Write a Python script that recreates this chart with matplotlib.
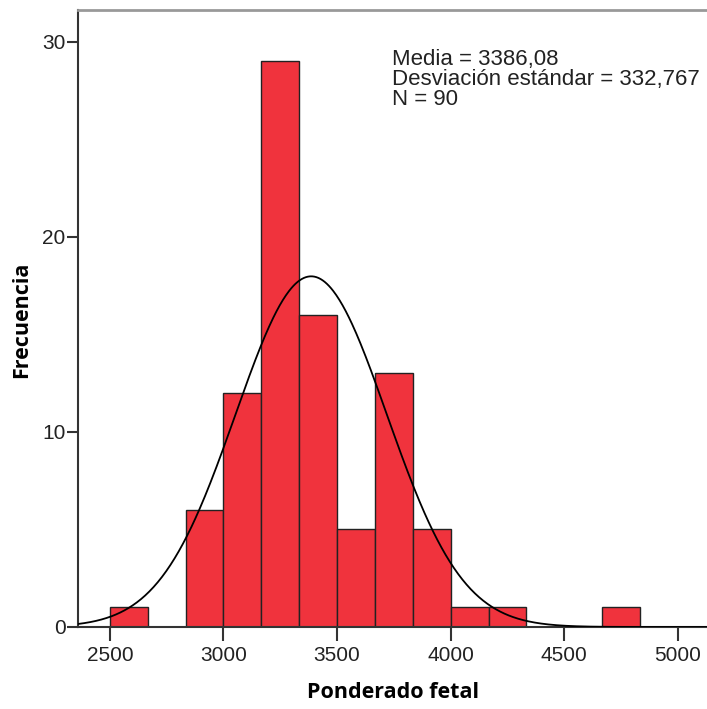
import numpy as np
import matplotlib
matplotlib.use("Agg")
import matplotlib.pyplot as plt

# Histogram data (bin width 500/3 starting at 2500)
bin_start = 2500
bin_width = 500 / 3
counts = [1, 0, 6, 12, 29, 16, 5, 13, 5, 1, 1, 0, 0, 1]
mean = 3386.08
std = 332.767
n = 90
xticks = [2500, 3000, 3500, 4000, 4500, 5000]
yticks = [0, 10, 20, 30]

fig = plt.figure(figsize=(7.07, 7.09), dpi=100)
ax = fig.add_axes([78/707, 1-627/709, 1-78/707, (627-10)/709])

edges = bin_start + bin_width * np.arange(len(counts))
for e, c in zip(edges, counts):
    if c > 0:
        ax.bar(e, c, width=bin_width, align='edge', color='#F0333D',
               edgecolor='#222222', linewidth=1.0, zorder=2)

xlim = (2360, 5128)
xs = np.linspace(xlim[0], xlim[1], 600)
ys = n * bin_width / (std * np.sqrt(2*np.pi)) * np.exp(-0.5*((xs-mean)/std)**2)
ax.plot(xs, ys, color='black', linewidth=1.3, zorder=3)

ax.set_xlim(*xlim)
ax.set_ylim(0, 31.64)
ax.set_xticks(xticks)
ax.set_yticks(yticks)
ax.tick_params(axis='x', direction='out', length=10, width=1.5, color='#333333',
               labelsize=15, labelcolor='#222222', pad=4)
ax.tick_params(axis='y', direction='out', length=8, width=1.5, color='#333333',
               labelsize=15, labelcolor='#222222', pad=1)
for lab in ax.get_xticklabels() + ax.get_yticklabels():
    lab.set_family('Liberation Sans')
ax.spines['right'].set_visible(False)
ax.spines['top'].set_color('#999999')
ax.spines['top'].set_linewidth(2)
ax.spines['left'].set_color('#333333')
ax.spines['left'].set_linewidth(1.5)
ax.spines['bottom'].set_color('#333333')
ax.spines['bottom'].set_linewidth(1.5)

ax.text(392/707, 1-49/709, "Media = 3386,08\nDesviación estándar = 332,767\nN = 90",
        transform=fig.transFigure, ha='left', va='top', fontsize=16,
        family='Liberation Sans', color='#222222', linespacing=0.93)

fig.text(393/707, 1-693/709, "Ponderado fetal", ha='center', va='center',
         fontsize=15.5, fontweight='bold', family='Open Sans', color='black')
fig.text(22/707, 1-320/709, "Frecuencia", ha='center', va='center', rotation=90,
         fontsize=15.5, fontweight='bold', family='Open Sans', color='black')

fig.savefig("out.png", dpi=100)
